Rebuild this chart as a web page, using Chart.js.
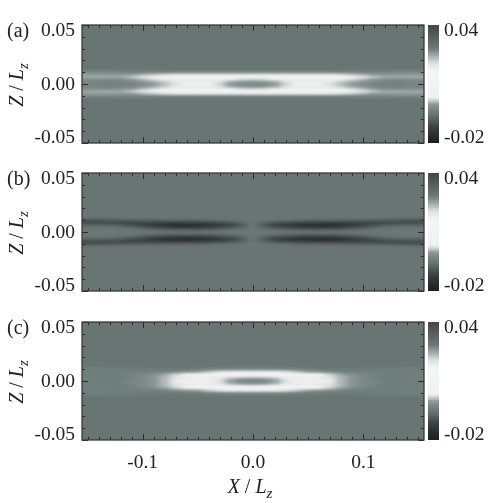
<!DOCTYPE html>
<html>
<head>
<meta charset="utf-8">
<script src="https://cdn.jsdelivr.net/npm/chart.js@4"></script>
<style>
  body { margin: 0; background: #fff; }
  #page { position: relative; width: 498px; height: 503px; overflow: hidden; font-family: 'Times New Roman', 'Liberation Serif', Times, serif; color: #222; }
  canvas { position: absolute; }
  .txt { position: absolute; font-size: 20px; line-height: 20px; white-space: nowrap; }
  .rot { transform: translate(-50%, -50%) rotate(-90deg); }
  .mid { transform: translateX(-50%); }
  i sub { font-size: 15px; line-height: 0; }
</style>
</head>
<body>
<div id="page">
  <svg width="0" height="0" style="position:absolute">
    <filter id="smooth" x="-10%" y="-10%" width="120%" height="120%" color-interpolation-filters="sRGB">
      <feGaussianBlur stdDeviation="3.5 0.8"/>
    </filter>
  </svg>
  <canvas id="panelA"></canvas><canvas id="barA"></canvas>
  <canvas id="panelB"></canvas><canvas id="barB"></canvas>
  <canvas id="panelC"></canvas><canvas id="barC"></canvas>
  <div class="txt" style="left:7px;top:20px">(a)</div>
  <div class="txt" style="left:7px;top:168px">(b)</div>
  <div class="txt" style="left:7px;top:317px">(c)</div>
  <div class="txt rot" style="left:16px;top:85px"><i>Z</i> / <i>L<sub>z</sub></i></div>
  <div class="txt rot" style="left:16px;top:233px"><i>Z</i> / <i>L<sub>z</sub></i></div>
  <div class="txt rot" style="left:16px;top:382px"><i>Z</i> / <i>L<sub>z</sub></i></div>
  <div class="txt mid" style="left:250px;top:476px"><i>X</i> / <i>L<sub>z</sub></i></div>
</div>
<script>
// Axes and tick labels
const xCenters = [-0.15, -0.14, -0.13, -0.12, -0.11, -0.10, -0.09, -0.08, -0.07, -0.06, -0.05, -0.04, -0.03, -0.02, -0.01, 0, 0.01, 0.02, 0.03, 0.04, 0.05, 0.06, 0.07, 0.08, 0.09, 0.10, 0.11, 0.12, 0.13, 0.14, 0.15];
const zCenters = [0.014, 0.012, 0.010, 0.008, 0.006, 0.004, 0.002, 0, -0.002, -0.004, -0.006, -0.008, -0.010, -0.012, -0.014];
const xTickLabels = [-0.1, 0, 0.1];
const zTickLabels = [0.05, 0, -0.05];
const barTickLabels = [0.04, -0.02];

// Values, in units of 0.001. Rows are the same above and below Z = 0.
const backgroundLevel = -6;
const a14 = [-6,-6,-6,-6,-6,-6,-6,-6,-6,-6,-6,-6,-6,-6,-6,-6,-6,-6,-6,-6,-6,-6,-6,-6,-6,-6,-6,-6,-6,-6,-6];
const a12 = [-4.5,-4.5,-4.5,-5,-5,-5,-5,-5.5,-5.5,-5.5,-5.5,-5.5,-5.5,-5.5,-5.5,-5.5,-5.5,-5.5,-5.5,-5.5,-5.5,-5.5,-5.5,-5.5,-5,-5,-5,-5,-4.5,-4.5,-4.5];
const a10 = [-2.5,-2.5,-2.5,-3,-3,-3,-3,-3,-2.5,-2.5,-2.5,-2.5,-2.5,-2.5,-2.5,-2.5,-2.5,-2.5,-2.5,-2.5,-2.5,-2.5,-2.5,-3,-3,-3,-3,-3,-2.5,-2.5,-2.5];
const a8 = [-0.5,-0.5,-0.5,-0.5,-0.5,0.5,1.5,2.5,3,3.5,4,4,4,4,4,4,4,4,4,4,4,3.5,3,2.5,1.5,0.5,-0.5,-0.5,-0.5,-0.5,-0.5];
const a6 = [0,0,0,0,1,2.5,4,6,7,8,8,8,8,8,8,8,8,8,8,8,8,8,7,6,4,2.5,1,0,0,0,0];
const a4 = [-2,-2,-2.5,-2,-1,0.5,2,3.5,5,7,8,8,5,3,2,1.5,2,3,5,8,8,7,5,3.5,2,0.5,-1,-2,-2.5,-2,-2];
const a2 = [-3,-3,-3.5,-3,-2.5,-1,0,1.5,3,5,7,6,2.5,0,-1,-1.5,-1,0,2.5,6,7,5,3,1.5,0,-1,-2.5,-3,-3.5,-3,-3];
const a0 = [-3,-3.5,-4,-4,-3.5,-2,-1,0.5,2,3.5,6,5,1.5,-1,-2,-2.5,-2,-1,1.5,5,6,3.5,2,0.5,-1,-2,-3.5,-4,-4,-3.5,-3];
const rowsA = [a14, a12, a10, a8, a6, a4, a2, a0, a2, a4, a6, a8, a10, a12, a14];

const b14 = [-6,-6,-6,-6,-6,-6,-6,-6,-6,-6,-6,-6,-6,-6,-6,-6,-6,-6,-6,-6,-6,-6,-6,-6,-6,-6,-6,-6,-6,-6,-6];
const b12 = [-6.5,-6.5,-6.5,-6,-6,-6,-6,-6,-6,-6,-6,-6,-6,-6,-6,-6,-6,-6,-6,-6,-6,-6,-6,-6,-6,-6,-6,-6,-6.5,-6.5,-6.5];
const b10 = [-10,-10,-9.5,-9,-9,-8.5,-8.5,-8,-8,-8,-8,-7.5,-7,-6.5,-6,-6,-6,-6.5,-7,-7.5,-8,-8,-8,-8,-8.5,-8.5,-9,-9,-9.5,-10,-10];
const b8 = [-11,-11,-11,-11.5,-12,-12,-12.5,-13,-13,-13,-12.5,-12,-11,-10,-8,-5.5,-8,-10,-11,-12,-12.5,-13,-13,-13,-12.5,-12,-12,-11.5,-11,-11,-11];
const b6 = [-8,-8,-8.5,-9,-10.5,-12,-14,-15.5,-17,-17,-17,-16,-14,-12,-9,-5.5,-9,-12,-14,-16,-17,-17,-17,-15.5,-14,-12,-10.5,-9,-8.5,-8,-8];
const b4 = [-6,-6,-6,-6.5,-7.5,-9,-11,-12,-13,-13.5,-13.5,-12.5,-11,-10,-8,-5.5,-8,-10,-11,-12.5,-13.5,-13.5,-13,-12,-11,-9,-7.5,-6.5,-6,-6,-6];
const b2 = [-5.5,-5.5,-5.5,-6,-6,-6.5,-7,-8,-8.5,-8.5,-8.5,-8,-7.5,-6.5,-5.5,-5.5,-5.5,-6.5,-7.5,-8,-8.5,-8.5,-8.5,-8,-7,-6.5,-6,-6,-5.5,-5.5,-5.5];
const b0 = [-5.5,-5.5,-5.5,-5.5,-5.5,-5.5,-5.5,-5.5,-5.5,-5.5,-5.5,-5.5,-5.5,-5.5,-5.5,-5.5,-5.5,-5.5,-5.5,-5.5,-5.5,-5.5,-5.5,-5.5,-5.5,-5.5,-5.5,-5.5,-5.5,-5.5,-5.5];
const rowsB = [b14, b12, b10, b8, b6, b4, b2, b0, b2, b4, b6, b8, b10, b12, b14];

const c14 = [-6,-6,-6,-6,-6,-6,-6,-6,-6,-6,-6,-6,-6,-6,-6,-6,-6,-6,-6,-6,-6,-6,-6,-6,-6,-6,-6,-6,-6,-6,-6];
const c12 = [-4.5,-4.5,-5,-5,-5,-5.5,-5.5,-5.5,-5.5,-5.5,-5.5,-5,-5,-5,-5,-5,-5,-5,-5,-5,-5.5,-5.5,-5.5,-5.5,-5.5,-5.5,-5,-5,-5,-4.5,-4.5];
const c10 = [-4,-4,-4,-4,-4.5,-4.5,-4.5,-4.5,-4.5,-4.5,-4,-3.5,-3,-2.5,-2.5,-2.5,-2.5,-2.5,-3,-3.5,-4,-4.5,-4.5,-4.5,-4.5,-4.5,-4.5,-4,-4,-4,-4];
const c8 = [-4,-4,-4,-4,-4,-4,-4,-3.5,-2.5,-1.5,-0.5,1,2.5,3.5,4,4,4,3.5,2.5,1,-0.5,-1.5,-2.5,-3.5,-4,-4,-4,-4,-4,-4,-4];
const c6 = [-4,-4,-4,-4,-3.5,-3,-2,-0.5,1,3,5.5,8,8,8,8,8,8,8,8,8,5.5,3,1,-0.5,-2,-3,-3.5,-4,-4,-4,-4];
const c4 = [-4,-4,-4.5,-4.5,-3.5,-2.5,-1,0.5,2.5,5,8,8,6,4,3,2.5,3,4,6,8,8,5,2.5,0.5,-1,-2.5,-3.5,-4.5,-4.5,-4,-4];
const c2 = [-4,-4,-4.5,-4.5,-3,-2.5,-1,0.5,2.5,5.5,8,7,3,0.5,-1,-1.5,-1,0.5,3,7,8,5.5,2.5,0.5,-1,-2.5,-3,-4.5,-4.5,-4,-4];
const c0 = [-4.5,-4.5,-4.5,-3.5,-3,-2.5,-1,0.5,3,5.5,7,6,2,-1,-2.5,-3,-2.5,-1,2,6,7,5.5,3,0.5,-1,-2.5,-3,-3.5,-4.5,-4.5,-4.5];
const rowsC = [c14, c12, c10, c8, c6, c4, c2, c0, c2, c4, c6, c8, c10, c12, c14];

// Colour scale
const colorLevels = [-20, -15, -12, -9, -6, -4, -2, -0.6, 1, 3, 16, 20, 25, 28, 40];
const colorValues = ['#1e2020', '#303434', '#3c4242', '#525a59', '#687572', '#70807c', '#808d8a', '#8f9a98', '#c0c8c6', '#f0f2f1', '#f4f5f5', '#e0e4e3', '#95a09e', '#6c7877', '#444444'];
const barLevels = [-20, -19, -18, -17, -16, -15, -14, -13, -12, -11, -10, -9, -8, -7, -6, -5, -4, -3, -2, -1, 0, 1, 2, 3, 4, 5, 6, 7, 8, 9, 10, 11, 12, 13, 14, 15, 16, 17, 18, 19, 20, 21, 22, 23, 24, 25, 26, 27, 28, 29, 30, 31, 32, 33, 34, 35, 36, 37, 38, 39];

const UNIT = 0.001;
const INK = '#2a2a2a';
const SERIF = '"Times New Roman", "Liberation Serif", Times, serif';
const LABEL_FONT = '19.5px ' + SERIF;

// Busca el color de un valor en la escala de la barra
function colorFor(level) {
  let i = 0;
  while (i < colorLevels.length - 2 && level > colorLevels[i + 1]) i++;
  const t = Math.min(1, Math.max(0, (level - colorLevels[i]) / (colorLevels[i + 1] - colorLevels[i])));
  const a = colorValues[i], b = colorValues[i + 1];
  let out = 'rgb(';
  for (let k = 0; k < 3; k++) {
    const p = parseInt(a.substr(1 + k * 2, 2), 16), q = parseInt(b.substr(1 + k * 2, 2), 16);
    out += Math.round(p + (q - p) * t) + (k < 2 ? ',' : ')');
  }
  return out;
}

// Fondo del panel
const panelBackground = {
  id: 'panelBackground',
  beforeDatasetsDraw(chart) {
    const a = chart.chartArea;
    chart.ctx.save();
    chart.ctx.fillStyle = colorFor(backgroundLevel);
    chart.ctx.fillRect(a.left, a.top, a.right - a.left, a.bottom - a.top);
    chart.ctx.restore();
  }
};

// Suaviza las celdas ya dibujadas, como en la imagen original
const smoothCells = {
  id: 'smoothCells',
  afterDatasetsDraw(chart) {
    const a = chart.chartArea, pad = 24;
    const w = Math.round(a.right - a.left), h = Math.round(a.bottom - a.top);
    const tmp = document.createElement('canvas');
    tmp.width = w + pad * 2;
    tmp.height = h + pad * 2;
    const t = tmp.getContext('2d');
    t.fillStyle = colorFor(backgroundLevel);
    t.fillRect(0, 0, tmp.width, tmp.height);
    t.drawImage(chart.canvas, a.left, a.top, 1, h, 0, pad, pad, h);
    t.drawImage(chart.canvas, a.right - 1, a.top, 1, h, pad + w, pad, pad, h);
    t.drawImage(chart.canvas, a.left, a.top, w, h, pad, pad, w, h);
    const ctx = chart.ctx;
    ctx.save();
    ctx.beginPath();
    ctx.rect(a.left, a.top, w, h);
    ctx.clip();
    ctx.filter = 'url(#smooth)';
    ctx.drawImage(tmp, a.left - pad, a.top - pad);
    ctx.restore();
  }
};

// Marco y marcas hacia dentro en los cuatro lados
const frameTicks = {
  id: 'frameTicks',
  afterDraw(chart) {
    const ctx = chart.ctx, a = chart.chartArea;
    const sx = chart.scales.x, sy = chart.scales.y;
    ctx.save();
    ctx.strokeStyle = INK;
    ctx.lineWidth = 1;
    ctx.beginPath();
    sx.ticks.forEach(t => {
      const major = xTickLabels.some(v => Math.abs(v - t.value) < 1e-6);
      const len = major ? 6 : 3, p = Math.round(sx.getPixelForValue(t.value)) + 0.5;
      ctx.moveTo(p, a.bottom); ctx.lineTo(p, a.bottom - len);
      ctx.moveTo(p, a.top); ctx.lineTo(p, a.top + len);
    });
    sy.ticks.forEach(t => {
      const major = zTickLabels.some(v => Math.abs(v - t.value) < 1e-6);
      const len = major ? 6 : 3, p = Math.round(sy.getPixelForValue(t.value)) + 0.5;
      ctx.moveTo(a.left, p); ctx.lineTo(a.left + len, p);
      ctx.moveTo(a.right, p); ctx.lineTo(a.right - len, p);
    });
    ctx.stroke();
    ctx.lineWidth = 1.3;
    ctx.strokeStyle = '#3a3a3a';
    ctx.strokeRect(a.left, a.top, a.right - a.left, a.bottom - a.top);
    ctx.restore();
  }
};

// Etiquetas del eje vertical: las de los extremos van metidas hacia dentro
function sideLabels(values, side) {
  return {
    id: 'sideLabels',
    afterDraw(chart) {
      const ctx = chart.ctx, a = chart.chartArea, sy = chart.scales.y;
      ctx.save();
      ctx.font = LABEL_FONT;
      ctx.fillStyle = '#222';
      ctx.textBaseline = 'middle';
      ctx.textAlign = side === 'left' ? 'right' : 'left';
      values.forEach(v => {
        const shift = v === values[0] ? 6 : (v === values[values.length - 1] ? -5 : 1);
        const x = side === 'left' ? a.left - 7 : a.right + 5;
        ctx.fillText(v.toFixed(2), x, sy.getPixelForValue(v) + shift);
      });
      ctx.restore();
    }
  };
}

function makePanel(id, rows, top, withLabels) {
  const canvas = document.getElementById(id);
  const height = withLabels ? 175 : 134;
  canvas.width = 430;
  canvas.height = height;
  canvas.style.left = '0px';
  canvas.style.top = (top - 8) + 'px';
  canvas.style.width = '430px';
  canvas.style.height = height + 'px';
  const datasets = rows.map((row, r) => ({
    data: xCenters.map(x => ({ x: x, y: [zCenters[r] - 0.0011, zCenters[r] + 0.0011] })),
    backgroundColor: row.map(colorFor),
    borderWidth: 0
  }));
  return new Chart(canvas, {
    type: 'bar',
    data: { datasets: datasets },
    options: {
      responsive: false,
      animation: false,
      devicePixelRatio: 1,
      layout: { padding: { top: 8, right: 6, left: 0, bottom: 0 } },
      datasets: { bar: { grouped: false, barPercentage: 1.06, categoryPercentage: 1 } },
      plugins: { legend: { display: false }, title: { display: false }, tooltip: { enabled: false } },
      scales: {
        x: {
          type: 'linear',
          min: -0.15,
          max: 0.15,
          afterFit: s => { s.height = height - 8 - 118; },
          grid: { display: false, drawTicks: false },
          border: { display: false },
          ticks: {
            stepSize: 0.01,
            autoSkip: false,
            maxRotation: 0,
            padding: 11,
            color: '#222',
            font: { family: SERIF, size: 19.5 },
            display: withLabels,
            callback: v => {
              const hit = xTickLabels.find(t => Math.abs(t - v) < 1e-6);
              return hit === undefined ? '' : hit.toFixed(1);
            }
          }
        },
        y: {
          min: -0.05,
          max: 0.05,
          afterFit: s => { s.width = 82; },
          grid: { display: false, drawTicks: false },
          border: { display: false },
          ticks: { stepSize: 0.01, autoSkip: false, display: true, color: 'rgba(0,0,0,0)', font: { size: 1 } }
        }
      }
    },
    plugins: [panelBackground, smoothCells, frameTicks, sideLabels(zTickLabels, 'left')]
  });
}

function makeBar(id, top) {
  const canvas = document.getElementById(id);
  canvas.width = 78;
  canvas.height = 134;
  canvas.style.left = '420px';
  canvas.style.top = (top - 8) + 'px';
  canvas.style.width = '78px';
  canvas.style.height = '134px';
  const datasets = barLevels.map(level => ({
    data: [{ x: 'c', y: [level * UNIT, (level + 1.1) * UNIT] }],
    backgroundColor: colorFor(level + 0.5),
    borderWidth: 0
  }));
  return new Chart(canvas, {
    type: 'bar',
    data: { labels: ['c'], datasets: datasets },
    options: {
      responsive: false,
      animation: false,
      devicePixelRatio: 1,
      layout: { padding: { top: 8, right: 0, left: 8, bottom: 8 } },
      datasets: { bar: { grouped: false, barPercentage: 1, categoryPercentage: 1 } },
      plugins: { legend: { display: false }, title: { display: false }, tooltip: { enabled: false } },
      scales: {
        x: { display: false },
        y: {
          position: 'right',
          min: -0.02,
          max: 0.04,
          afterFit: s => { s.width = 59; },
          grid: { display: false, drawTicks: false },
          border: { display: false },
          ticks: { display: false }
        }
      }
    },
    plugins: [sideLabels(barTickLabels, 'right')]
  });
}

makePanel('panelA', rowsA, 25, false);
makePanel('panelB', rowsB, 173, false);
makePanel('panelC', rowsC, 322, true);
makeBar('barA', 25);
makeBar('barB', 173);
makeBar('barC', 322);
</script>
</body>
</html>
